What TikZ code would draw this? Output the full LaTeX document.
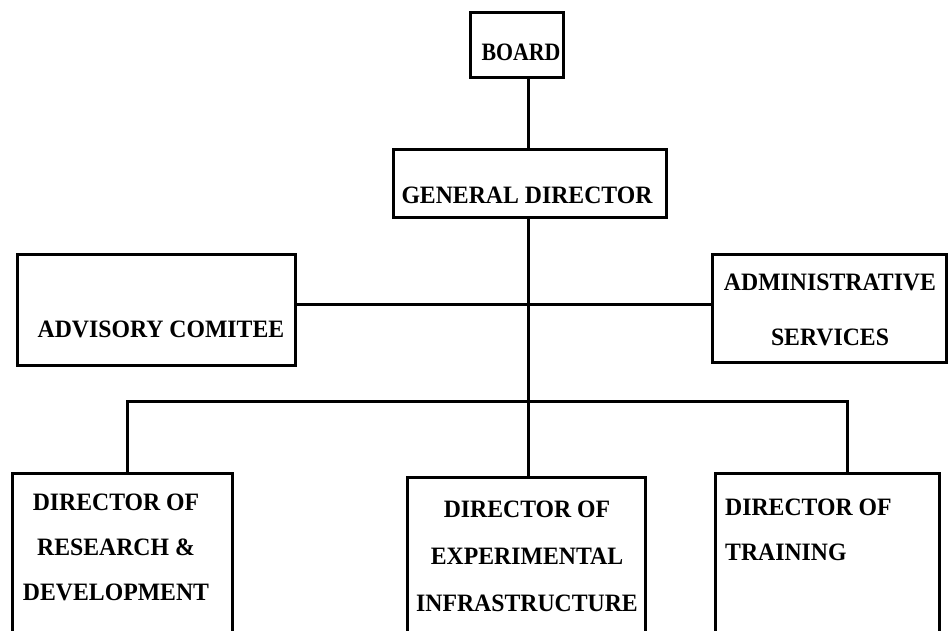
\documentclass[tikz,border=0pt]{standalone}
\usepackage{fontspec}
\setmainfont{Liberation Serif}[FakeStretch=0.95]
\begin{document}
\begin{tikzpicture}[x=1pt,y=-1pt,
  box/.style={draw, line width=3pt, rectangle, inner sep=0pt},
  lbl/.style={font=\bfseries\fontsize{25}{45}\selectfont, inner sep=0pt},
  conn/.style={line width=3pt}]
\useasboundingbox[fill=white] (0,0) rectangle (948,631);
% boxes
\node[box, minimum width=93pt, minimum height=65pt] (board) at (516.5,45.5) {};
\node[box, minimum width=273pt, minimum height=68pt] (gd) at (529.5,184) {};
\node[box, minimum width=278pt, minimum height=110pt] (adv) at (156,310) {};
\node[box, minimum width=234pt, minimum height=107pt] (adm) at (829,308.5) {};
\node[box, minimum width=220pt, minimum height=160pt] (rd) at (122,553) {};
\node[box, minimum width=238pt, minimum height=156pt] (exp) at (526,555) {};
\node[box, minimum width=224pt, minimum height=160pt] (trn) at (827,553) {};
% texts
\node[lbl, xscale=0.92] (tboard) at (521,52) {BOARD};
\node[lbl] (tgd) at (527,195) {GENERAL DIRECTOR};
\node[lbl] (tadv) at (161,329) {ADVISORY COMITEE};
\node[lbl, align=center] (tadm) at (830,309.5) {ADMINISTRATIVE\\[10pt]SERVICES};
\node[lbl, align=center] (trd) at (116,547) {DIRECTOR OF\\RESEARCH \&\\DEVELOPMENT};
\node[lbl, align=center, font=\bfseries\fontsize{25}{47}\selectfont] (texp) at (527,556) {DIRECTOR OF\\EXPERIMENTAL\\INFRASTRUCTURE};
\node[lbl, align=left, anchor=west] (ttrn) at (725,529.5) {DIRECTOR OF\\TRAINING};
% connector helper coordinates
\coordinate (hl) at (0,304);
\coordinate (busL) at (127,401);
\coordinate (busR) at (847,401);
% connectors
\draw[conn] ([xshift=11.5pt]board.south) -- ([xshift=11.5pt]board.south |- gd.north);
\draw[conn] ([xshift=-1pt]gd.south) -- ([xshift=-1pt]gd.south |- exp.north);
\draw[conn] (adv.east |- hl) -- (adm.west |- hl);
\draw[conn] (rd.north -| busL) -- (busL) -- (busR) -- (trn.north -| busR);
\end{tikzpicture}
\end{document}
